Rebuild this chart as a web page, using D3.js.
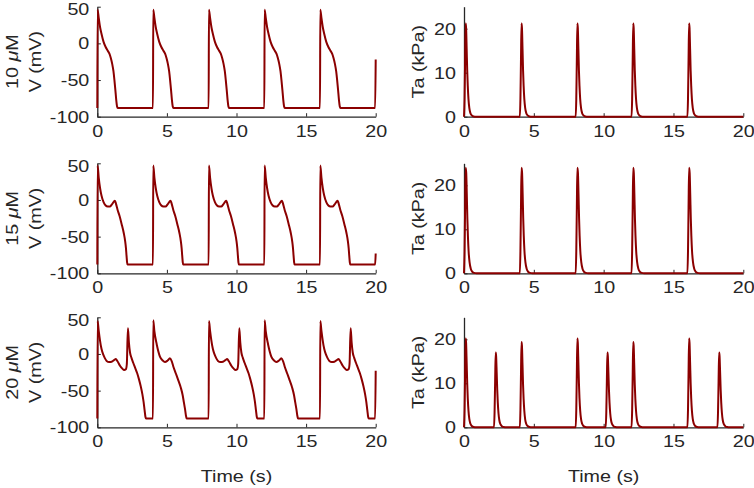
<!DOCTYPE html>
<html>
<head>
<meta charset="utf-8">
<script src="https://cdn.jsdelivr.net/npm/d3@7"></script>
<style>
  html, body { margin: 0; padding: 0; background: #fff; }
  svg { display: block; }
</style>
</head>
<body>
<svg width="754" height="488"></svg>
<script>
'use strict';

// ---- data ----
const concentrations = ['10', '15', '20'];
const timeTicks = [0, 5, 10, 15, 20];
const vTicks = [-100, -50, 0, 50];
const taTicks = [0, 10, 20];

// membrane potential, [time (s), V (mV)]
const vm10 = [
  [0, -88], [0.02, 46], [0.1, 35], [0.2, 22], [0.3, 13], [0.45, 2], [0.6, -5], [0.75, -10], [0.87, -14], [0.97, -20], [1.07, -28], [1.16, -38], [1.23, -50], [1.3, -64], [1.36, -77], [1.42, -86], [1.47, -88],
  [4, -88], [4.02, 46], [4.1, 35], [4.2, 22], [4.3, 13], [4.45, 2], [4.6, -5], [4.75, -10], [4.87, -14], [4.97, -20], [5.07, -28], [5.16, -38], [5.23, -50], [5.3, -64], [5.36, -77], [5.42, -86], [5.47, -88],
  [8, -88], [8.02, 46], [8.1, 35], [8.2, 22], [8.3, 13], [8.45, 2], [8.6, -5], [8.75, -10], [8.87, -14], [8.97, -20], [9.07, -28], [9.16, -38], [9.23, -50], [9.3, -64], [9.36, -77], [9.42, -86], [9.47, -88],
  [12, -88], [12.02, 46], [12.1, 35], [12.2, 22], [12.3, 13], [12.45, 2], [12.6, -5], [12.75, -10], [12.87, -14], [12.97, -20], [13.07, -28], [13.16, -38], [13.23, -50], [13.3, -64], [13.36, -77], [13.42, -86], [13.47, -88],
  [16, -88], [16.02, 46], [16.1, 35], [16.2, 22], [16.3, 13], [16.45, 2], [16.6, -5], [16.75, -10], [16.87, -14], [16.97, -20], [17.07, -28], [17.16, -38], [17.23, -50], [17.3, -64], [17.36, -77], [17.42, -86], [17.47, -88],
  [19.96, -88], [20, -22]
];

const vm15 = [
  [0, -88], [0.02, 47], [0.1, 31], [0.2, 16], [0.3, 6], [0.45, -3], [0.6, -7.5], [0.75, -9], [0.9, -9], [1.05, -6], [1.18, -2.5], [1.27, -1], [1.34, -5], [1.45, -13], [1.6, -22], [1.75, -33], [1.9, -45], [2, -56], [2.06, -66], [2.1, -76], [2.14, -85], [2.17, -88],
  [4, -88], [4.02, 47], [4.1, 31], [4.2, 16], [4.3, 6], [4.45, -3], [4.6, -7.5], [4.75, -9], [4.9, -9], [5.05, -6], [5.18, -2.5], [5.27, -1], [5.34, -5], [5.45, -13], [5.6, -22], [5.75, -33], [5.9, -45], [6, -56], [6.06, -66], [6.1, -76], [6.14, -85], [6.17, -88],
  [8, -88], [8.02, 47], [8.1, 31], [8.2, 16], [8.3, 6], [8.45, -3], [8.6, -7.5], [8.75, -9], [8.9, -9], [9.05, -6], [9.18, -2.5], [9.27, -1], [9.34, -5], [9.45, -13], [9.6, -22], [9.75, -33], [9.9, -45], [10, -56], [10.06, -66], [10.1, -76], [10.14, -85], [10.17, -88],
  [12, -88], [12.02, 47], [12.1, 31], [12.2, 16], [12.3, 6], [12.45, -3], [12.6, -7.5], [12.75, -9], [12.9, -9], [13.05, -6], [13.18, -2.5], [13.27, -1], [13.34, -5], [13.45, -13], [13.6, -22], [13.75, -33], [13.9, -45], [14, -56], [14.06, -66], [14.1, -76], [14.14, -85], [14.17, -88],
  [16, -88], [16.02, 47], [16.1, 31], [16.2, 16], [16.3, 6], [16.45, -3], [16.6, -7.5], [16.75, -9], [16.9, -9], [17.05, -6], [17.18, -2.5], [17.27, -1], [17.34, -5], [17.45, -13], [17.6, -22], [17.75, -33], [17.9, -45], [18, -56], [18.06, -66], [18.1, -76], [18.14, -85], [18.17, -88],
  [19.96, -88], [20, -73]
];

// 20 uM: beats at 0, 8, 16 carry an early afterdepolarisation
const vm20 = [
  [0, -88], [0.02, 45], [0.1, 32], [0.19, 19], [0.3, 7], [0.43, -1], [0.55, -6], [0.67, -9.5], [0.85, -11], [1.03, -10.5], [1.2, -8.5], [1.33, -7], [1.45, -10], [1.63, -16], [1.8, -20], [1.93, -22], [2.05, -21], [2.12, -14], [2.2, 35], [2.27, 16], [2.35, 2], [2.45, -5], [2.58, -12], [2.72, -19], [2.86, -26], [3, -35], [3.12, -44], [3.24, -55], [3.33, -66], [3.4, -77], [3.46, -86], [3.5, -88],
  [4, -88], [4.02, 46], [4.1, 31], [4.27, 13], [4.5, -3.5], [4.7, -9], [4.86, -11], [5.05, -9], [5.22, -6], [5.35, -10], [5.46, -17], [5.65, -27], [5.82, -36], [6, -46], [6.13, -56], [6.22, -66], [6.3, -75], [6.36, -83], [6.42, -88],
  [8, -88], [8.02, 45], [8.1, 32], [8.19, 19], [8.3, 7], [8.43, -1], [8.55, -6], [8.67, -9.5], [8.85, -11], [9.03, -10.5], [9.2, -8.5], [9.33, -7], [9.45, -10], [9.63, -16], [9.8, -20], [9.93, -22], [10.05, -21], [10.12, -14], [10.2, 35], [10.27, 16], [10.35, 2], [10.45, -5], [10.58, -12], [10.72, -19], [10.86, -26], [11, -35], [11.12, -44], [11.24, -55], [11.33, -66], [11.4, -77], [11.46, -86], [11.5, -88],
  [12, -88], [12.02, 46], [12.1, 31], [12.27, 13], [12.5, -3.5], [12.7, -9], [12.86, -11], [13.05, -9], [13.22, -6], [13.35, -10], [13.46, -17], [13.65, -27], [13.82, -36], [14, -46], [14.13, -56], [14.22, -66], [14.3, -75], [14.36, -83], [14.42, -88],
  [16, -88], [16.02, 45], [16.1, 32], [16.19, 19], [16.3, 7], [16.43, -1], [16.55, -6], [16.67, -9.5], [16.85, -11], [17.03, -10.5], [17.2, -8.5], [17.33, -7], [17.45, -10], [17.63, -16], [17.8, -20], [17.93, -22], [18.05, -21], [18.12, -14], [18.2, 35], [18.27, 16], [18.35, 2], [18.45, -5], [18.58, -12], [18.72, -19], [18.86, -26], [19, -35], [19.12, -44], [19.24, -55], [19.33, -66], [19.4, -77], [19.46, -86], [19.5, -88],
  [19.96, -88], [20, -23]
];

// active tension, [time (s), Ta (kPa)]
const ta10 = [
  [0, 0], [0.04, 4], [0.08, 13], [0.12, 21.2], [0.15, 20.2], [0.19, 15.5], [0.23, 10.5], [0.27, 7], [0.32, 4], [0.38, 2], [0.46, 0.8], [0.56, 0.3], [0.7, 0.05], [0.85, 0],
  [4, 0], [4.04, 4], [4.08, 13], [4.12, 21.2], [4.15, 20.2], [4.19, 15.5], [4.23, 10.5], [4.27, 7], [4.32, 4], [4.38, 2], [4.46, 0.8], [4.56, 0.3], [4.7, 0.05], [4.85, 0],
  [8, 0], [8.04, 4], [8.08, 13], [8.12, 21.2], [8.15, 20.2], [8.19, 15.5], [8.23, 10.5], [8.27, 7], [8.32, 4], [8.38, 2], [8.46, 0.8], [8.56, 0.3], [8.7, 0.05], [8.85, 0],
  [12, 0], [12.04, 4], [12.08, 13], [12.12, 21.2], [12.15, 20.2], [12.19, 15.5], [12.23, 10.5], [12.27, 7], [12.32, 4], [12.38, 2], [12.46, 0.8], [12.56, 0.3], [12.7, 0.05], [12.85, 0],
  [16, 0], [16.04, 4], [16.08, 13], [16.12, 21.2], [16.15, 20.2], [16.19, 15.5], [16.23, 10.5], [16.27, 7], [16.32, 4], [16.38, 2], [16.46, 0.8], [16.56, 0.3], [16.7, 0.05], [16.85, 0],
  [20, 0]
];

const ta15 = [
  [0, 0], [0.04, 5], [0.08, 15], [0.12, 24], [0.16, 22.8], [0.2, 18], [0.24, 12.5], [0.28, 8.5], [0.33, 5], [0.4, 2.5], [0.48, 1.1], [0.58, 0.4], [0.72, 0.1], [0.9, 0],
  [4, 0], [4.04, 5], [4.08, 15], [4.12, 24], [4.16, 22.8], [4.2, 18], [4.24, 12.5], [4.28, 8.5], [4.33, 5], [4.4, 2.5], [4.48, 1.1], [4.58, 0.4], [4.72, 0.1], [4.9, 0],
  [8, 0], [8.04, 5], [8.08, 15], [8.12, 24], [8.16, 22.8], [8.2, 18], [8.24, 12.5], [8.28, 8.5], [8.33, 5], [8.4, 2.5], [8.48, 1.1], [8.58, 0.4], [8.72, 0.1], [8.9, 0],
  [12, 0], [12.04, 5], [12.08, 15], [12.12, 24], [12.16, 22.8], [12.2, 18], [12.24, 12.5], [12.28, 8.5], [12.33, 5], [12.4, 2.5], [12.48, 1.1], [12.58, 0.4], [12.72, 0.1], [12.9, 0],
  [16, 0], [16.04, 5], [16.08, 15], [16.12, 24], [16.16, 22.8], [16.2, 18], [16.24, 12.5], [16.28, 8.5], [16.33, 5], [16.4, 2.5], [16.48, 1.1], [16.58, 0.4], [16.72, 0.1], [16.9, 0],
  [20, 0]
];

const ta20 = [
  [0, 0], [0.04, 4], [0.08, 12.5], [0.12, 20.2], [0.15, 19.2], [0.19, 14.8], [0.23, 10], [0.27, 6.6], [0.32, 3.8], [0.38, 1.9], [0.46, 0.8], [0.56, 0.3], [0.7, 0.05], [0.85, 0],
  [2.15, 0], [2.19, 3.5], [2.23, 10.5], [2.27, 17], [2.3, 16.2], [2.34, 12.5], [2.38, 8.5], [2.42, 5.6], [2.47, 3.2], [2.53, 1.6], [2.61, 0.7], [2.71, 0.25], [2.85, 0.05], [3, 0],
  [4, 0], [4.04, 3.8], [4.08, 12], [4.12, 19.4], [4.15, 18.5], [4.19, 14.2], [4.23, 9.6], [4.27, 6.4], [4.32, 3.7], [4.38, 1.8], [4.46, 0.75], [4.56, 0.3], [4.7, 0.05], [4.85, 0],
  [8, 0], [8.04, 4], [8.08, 12.5], [8.12, 20.2], [8.15, 19.2], [8.19, 14.8], [8.23, 10], [8.27, 6.6], [8.32, 3.8], [8.38, 1.9], [8.46, 0.8], [8.56, 0.3], [8.7, 0.05], [8.85, 0],
  [10.15, 0], [10.19, 3.5], [10.23, 10.5], [10.27, 17], [10.3, 16.2], [10.34, 12.5], [10.38, 8.5], [10.42, 5.6], [10.47, 3.2], [10.53, 1.6], [10.61, 0.7], [10.71, 0.25], [10.85, 0.05], [11, 0],
  [12, 0], [12.04, 3.8], [12.08, 12], [12.12, 19.4], [12.15, 18.5], [12.19, 14.2], [12.23, 9.6], [12.27, 6.4], [12.32, 3.7], [12.38, 1.8], [12.46, 0.75], [12.56, 0.3], [12.7, 0.05], [12.85, 0],
  [16, 0], [16.04, 4], [16.08, 12.5], [16.12, 20.2], [16.15, 19.2], [16.19, 14.8], [16.23, 10], [16.27, 6.6], [16.32, 3.8], [16.38, 1.9], [16.46, 0.8], [16.56, 0.3], [16.7, 0.05], [16.85, 0],
  [18.15, 0], [18.19, 3.5], [18.23, 10.5], [18.27, 17], [18.3, 16.2], [18.34, 12.5], [18.38, 8.5], [18.42, 5.6], [18.47, 3.2], [18.53, 1.6], [18.61, 0.7], [18.71, 0.25], [18.85, 0.05], [19, 0],
  [20, 0]
];

const vmTraces = [vm10, vm15, vm20];
const taTraces = [ta10, ta15, ta20];

// ---- layout ----
const svg = d3.select('svg');
const fontFamily = '"Liberation Sans", Arial, Helvetica, sans-serif';
const fontSize = 17;
const textColor = '#262626';
const lineColor = '#8b0000';
const stretch = 1.16;   // the figure's lettering is a little wider than Arial

const leftRange = [97.3, 375.7];
const rightRange = [464, 743.3];
const rowTops = [6.7, 163.3, 317.3];
const rowHeight = 110;

const xLeft = d3.scaleLinear().domain([0, 20]).range(leftRange);
const xRight = d3.scaleLinear().domain([0, 20]).range(rightRange);

function styleAxis(g) {
  g.attr('font-family', fontFamily)
    .attr('font-size', fontSize)
    .attr('color', textColor);
  g.select('.domain').attr('stroke-width', 1.3);
  g.selectAll('.tick line').attr('stroke-width', 1);
  g.selectAll('.tick text').attr('fill', textColor);
}

function drawPanel(x, y, data, yTicks, bottom) {
  const gx = svg.append('g')
    .attr('transform', `translate(0,${bottom})`)
    .call(d3.axisBottom(x).tickValues(timeTicks).tickFormat(d => String(d))
      .tickSizeInner(-3.5).tickSizeOuter(0).tickPadding(8));
  styleAxis(gx);
  gx.selectAll('.tick text').attr('transform', `scale(${stretch},1)`);

  const gy = svg.append('g')
    .attr('transform', `translate(${x.range()[0]},0)`)
    .call(d3.axisLeft(y).tickValues(yTicks).tickFormat(d => String(d))
      .tickSizeInner(-3.5).tickSizeOuter(0).tickPadding(8));
  styleAxis(gy);
  gy.selectAll('.tick text')
    .attr('x', -8 / stretch)
    .attr('transform', `scale(${stretch},1)`);
  // the label at the very top of the axis sits a little lower, as in the figure
  gy.selectAll('.tick text')
    .filter(d => d === y.domain()[1])
    .attr('y', 2.5);

  const line = d3.line()
    .x(d => x(d[0]))
    .y(d => y(d[1]))
    .curve(d3.curveMonotoneX);

  svg.append('path')
    .datum(data)
    .attr('d', line)
    .attr('fill', 'none')
    .attr('stroke', lineColor)
    .attr('stroke-width', 2)
    .attr('stroke-linejoin', 'round');
}

function rotatedLabel(px, cy) {
  return svg.append('text')
    .attr('transform', `translate(${px},${cy}) scale(1,${stretch}) rotate(-90)`)
    .attr('text-anchor', 'middle')
    .attr('font-family', fontFamily)
    .attr('font-size', fontSize)
    .attr('fill', textColor);
}

rowTops.forEach((top, i) => {
  const bottom = top + rowHeight;
  const cy = top + rowHeight / 2;

  const yV = d3.scaleLinear().domain([-100, 50]).range([bottom, top]);
  const yTa = d3.scaleLinear().domain([0, 25]).range([bottom, top]);

  drawPanel(xLeft, yV, vmTraces[i], vTicks, bottom);
  drawPanel(xRight, yTa, taTraces[i], taTicks, bottom);

  // concentration + V label, two lines
  const conc = rotatedLabel(17.5, cy);
  conc.append('tspan').text(concentrations[i] + ' ');
  conc.append('tspan').attr('font-style', 'italic').text('\u03bc');
  conc.append('tspan').text('M');
  rotatedLabel(41.4, cy).text('V (mV)');

  rotatedLabel(424.2, cy).text('Ta (kPa)');
});

// time labels under the bottom row
[xLeft, xRight].forEach(x => {
  const cx = (x.range()[0] + x.range()[1]) / 2;
  svg.append('text')
    .attr('transform', `translate(${cx},481.7) scale(${stretch},1)`)
    .attr('text-anchor', 'middle')
    .attr('font-family', fontFamily)
    .attr('font-size', fontSize)
    .attr('fill', textColor)
    .text('Time (s)');
});
</script>
</body>
</html>
